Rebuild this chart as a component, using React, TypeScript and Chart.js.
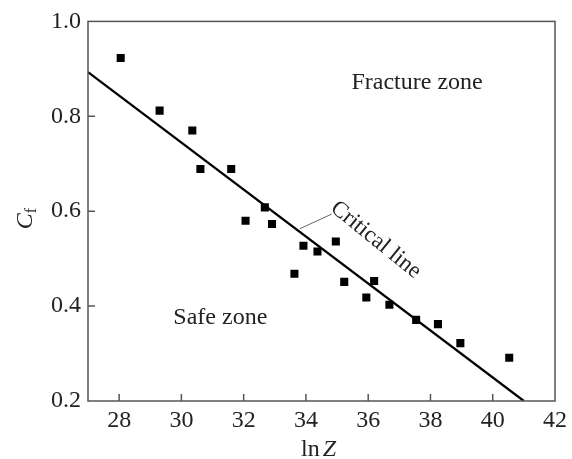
import React, { useEffect, useRef } from 'react';
import { Chart, registerables } from 'chart.js';

Chart.register(...registerables);

// Measured data (ln Z, C_f)
const lnZ = [28.05, 29.3, 30.35, 30.61, 31.6, 32.06, 32.68, 32.91, 33.63, 33.92, 34.37, 34.96, 35.23, 35.94, 36.19, 36.68, 37.54, 38.24, 38.96, 40.53];
const cf = [0.923, 0.812, 0.77, 0.689, 0.689, 0.58, 0.608, 0.573, 0.468, 0.527, 0.515, 0.536, 0.451, 0.418, 0.453, 0.403, 0.371, 0.362, 0.322, 0.291];

// Critical line end points
const criticalX = [27, 41.0];
const criticalY = [0.893, 0.2];

// Axis ticks
const xTicks = [28, 30, 32, 34, 36, 38, 40, 42];
const yTicks = [0.2, 0.4, 0.6, 0.8, 1.0];
const xRange = [27, 42];
const yRange = [0.2, 1.0];

// Annotation anchors (data coordinates)
const fractureLabel = { text: 'Fracture zone', x: 37.57, y: 0.87 };
const safeLabel = { text: 'Safe zone', x: 31.25, y: 0.375 };
const criticalLabel = { text: 'Critical line', x: 34.88, y: 0.612 };
const leaderFrom = [33.8, 0.563];
const leaderTo = [34.83, 0.594];

const FONT = '"Liberation Serif", "DejaVu Serif", serif';
const FS = 24;

const annotPlugin = {
  id: 'annot',
  afterDraw(chart: any) {
    const { ctx, chartArea: ca, scales } = chart;
    const xs = scales.x;
    const ys = scales.y;
    ctx.save();
    // frame
    ctx.strokeStyle = '#555';
    ctx.lineWidth = 1.5;
    ctx.strokeRect(ca.left, ca.top, ca.right - ca.left, ca.bottom - ca.top);
    // inward ticks
    ctx.beginPath();
    xTicks.forEach((v) => {
      const px = xs.getPixelForValue(v);
      if (px > ca.left + 1 && px < ca.right - 1) {
        ctx.moveTo(px, ca.bottom);
        ctx.lineTo(px, ca.bottom - 7);
      }
    });
    yTicks.forEach((v) => {
      const py = ys.getPixelForValue(v);
      if (py > ca.top + 1 && py < ca.bottom - 1) {
        ctx.moveTo(ca.left, py);
        ctx.lineTo(ca.left + 7, py);
      }
    });
    ctx.stroke();

    ctx.fillStyle = '#222';
    ctx.textBaseline = 'middle';
    ctx.textAlign = 'center';
    ctx.font = `${FS}px ${FONT}`;
    ctx.fillText(fractureLabel.text, xs.getPixelForValue(fractureLabel.x), ys.getPixelForValue(fractureLabel.y));
    ctx.fillText(safeLabel.text, xs.getPixelForValue(safeLabel.x), ys.getPixelForValue(safeLabel.y));

    // leader line
    ctx.strokeStyle = '#666';
    ctx.lineWidth = 1;
    ctx.beginPath();
    ctx.moveTo(xs.getPixelForValue(leaderFrom[0]), ys.getPixelForValue(leaderFrom[1]));
    ctx.lineTo(xs.getPixelForValue(leaderTo[0]), ys.getPixelForValue(leaderTo[1]));
    ctx.stroke();

    // critical line label rotated
    ctx.save();
    ctx.translate(xs.getPixelForValue(criticalLabel.x), ys.getPixelForValue(criticalLabel.y));
    ctx.rotate((39 * Math.PI) / 180);
    ctx.textAlign = 'left';
    ctx.textBaseline = 'middle';
    ctx.font = `23px ${FONT}`;
    ctx.fillText(criticalLabel.text, 0, 0);
    ctx.restore();

    // x axis title: ln Z
    ctx.textBaseline = 'alphabetic';
    ctx.textAlign = 'left';
    ctx.font = `${FS}px ${FONT}`;
    const t1 = 'ln';
    const w1 = ctx.measureText(t1).width;
    ctx.font = `italic ${FS}px ${FONT}`;
    const w2 = ctx.measureText('Z').width;
    const gap = 3;
    const total = w1 + gap + w2;
    const cx = (ca.left + ca.right) / 2 - 3;
    const sx = cx - total / 2;
    ctx.font = `${FS}px ${FONT}`;
    ctx.fillText(t1, sx, 456);
    ctx.font = `italic ${FS}px ${FONT}`;
    ctx.fillText('Z', sx + w1 + gap, 456);

    // y axis title: C_f
    ctx.save();
    const cy = (ca.top + ca.bottom) / 2;
    ctx.translate(32, cy + 18);
    ctx.rotate(-Math.PI / 2);
    ctx.font = `italic ${FS}px ${FONT}`;
    const wc = ctx.measureText('C').width;
    ctx.fillText('C', 0, 0);
    ctx.font = `16px ${FONT}`;
    ctx.fillText('f', wc, 4);
    ctx.restore();

    ctx.restore();
  },
};

export default function App() {
  const ref = useRef<HTMLCanvasElement | null>(null);
  useEffect(() => {
    if (!ref.current) return;
    const chart = new Chart(ref.current, {
      type: 'scatter',
      data: {
        datasets: [
          {
            type: 'line',
            label: 'Critical line',
            data: criticalX.map((x, i) => ({ x, y: criticalY[i] })),
            borderColor: '#000',
            borderWidth: 2.3,
            pointRadius: 0,
            showLine: true,
            fill: false,
          } as any,
          {
            label: 'Data',
            data: lnZ.map((x, i) => ({ x, y: cf[i] })),
            pointStyle: 'rect',
            pointRadius: 5.7,
            backgroundColor: '#000',
            borderColor: '#000',
            borderWidth: 0,
          },
        ],
      },
      options: {
        animation: false,
        responsive: false,
        devicePixelRatio: 1,
        layout: { padding: { top: 18, right: 14, left: 0, bottom: 0 } },
        plugins: { legend: { display: false }, tooltip: { enabled: false } },
        scales: {
          x: {
            type: 'linear',
            min: xRange[0],
            max: xRange[1],
            afterBuildTicks: (s: any) => {
              s.ticks = xTicks.map((v) => ({ value: v }));
            },
            afterFit: (s: any) => {
              s.height = 58;
            },
            grid: { display: false, drawTicks: false },
            border: { display: false },
            ticks: {
              padding: 5,
              color: '#222',
              font: { family: FONT, size: FS },
              maxRotation: 0,
              autoSkip: false,
              callback: (v: any) => String(v),
            },
          },
          y: {
            type: 'linear',
            min: yRange[0],
            max: yRange[1],
            afterBuildTicks: (s: any) => {
              s.ticks = yTicks.map((v) => ({ value: v }));
            },
            afterFit: (s: any) => {
              s.width = 88;
            },
            grid: { display: false, drawTicks: false },
            border: { display: false },
            ticks: {
              padding: 7,
              color: '#222',
              font: { family: FONT, size: FS },
              autoSkip: false,
              callback: (v: any) => Number(v).toFixed(1),
            },
          },
        },
      },
      plugins: [annotPlugin],
    });
    return () => chart.destroy();
  }, []);
  return (
    <div style={{ position: 'fixed', left: 0, top: 0, width: 572, height: 459, background: '#fff' }}>
      <canvas ref={ref} width={572} height={459} style={{ width: 572, height: 459 }} />
    </div>
  );
}
